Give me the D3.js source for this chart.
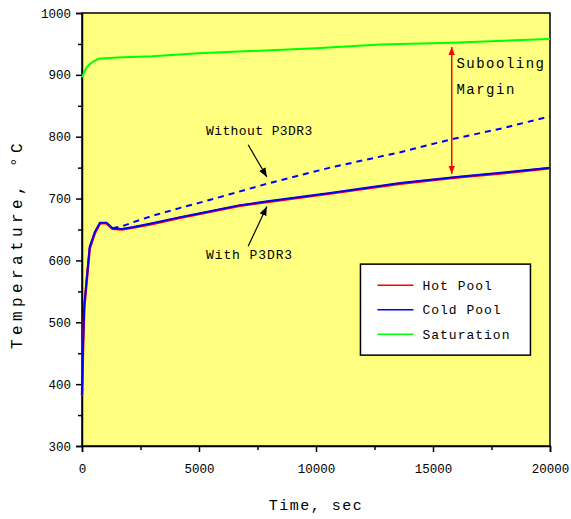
<!DOCTYPE html>
<html>
<head>
<meta charset="utf-8">
<script src="https://cdn.jsdelivr.net/npm/d3@7"></script>
<style>
  body { margin: 0; background: #fff; }
  svg text { font-family: "Liberation Mono", "DejaVu Sans Mono", monospace; fill: #000; }
</style>
</head>
<body>
<div id="chartDiv"></div>
<script>
// Pool temperatures (with PSDRS), cold pool / hot pool nearly identical
var poolTime = [0, 50, 100, 200, 330, 550, 770, 1050, 1300, 1700, 2200, 3000, 4200, 5000, 6700, 8000, 10600, 13600, 16000, 18000, 20000];
var coldPool = [383, 470, 528, 569, 622, 646, 661, 661, 652, 651, 654, 660, 670, 676, 689, 696, 709, 725, 735, 742, 750];
var hotPool  = [381, 468, 525, 566, 619, 644, 660, 660, 651, 650, 653, 659, 669, 675, 688, 695, 708, 724, 734, 741, 749];

// Cold pool without PSDRS (dashed)
var noPsdrsTime = [1300, 1700, 2200, 3000, 4200, 5000, 6700, 8000, 10600, 13600, 15700, 18000, 20000];
var noPsdrsTemp = [652, 655, 662, 672, 685, 693, 711, 725, 750, 775, 795, 814, 833];

// Saturation temperature
var satTime = [0, 100, 200, 350, 500, 700, 1500, 3000, 5000, 10000, 12750, 15800, 20000];
var satTemp = [896, 905, 912, 918, 922, 926, 928, 930, 935, 943, 949, 952, 958];

var yTicks = [300, 400, 500, 600, 700, 800, 900, 1000];
var xTicks = [0, 5000, 10000, 15000, 20000];
var legendNames = ["Hot Pool", "Cold Pool", "Saturation"];
var legendColors = ["#ff0000", "#0000ff", "#00ff00"];

// Chart dimensions
var svgWidth = 571;
var svgHeight = 519;
var margin = { top: 13, right: 21, bottom: 73, left: 82 };
var plotW = svgWidth - margin.left - margin.right;
var plotH = svgHeight - margin.top - margin.bottom;

var svg = d3.select('#chartDiv')
            .append('svg')
            .attr('width', svgWidth)
            .attr('height', svgHeight);

var defs = svg.append('defs');
function addMarker(id, color, size) {
    defs.append('marker')
        .attr('id', id)
        .attr('viewBox', '0 0 10 10')
        .attr('refX', 10)
        .attr('refY', 5)
        .attr('markerWidth', size)
        .attr('markerHeight', size)
        .attr('markerUnits', 'userSpaceOnUse')
        .attr('orient', 'auto-start-reverse')
        .append('path')
        .attr('d', 'M0,1 L10,5 L0,9 Z')
        .attr('fill', color);
}
addMarker('arrowBlack', '#000', 9);
addMarker('arrowRed', '#ff0000', 8);

var g = svg.append('g').attr('transform', 'translate(' + margin.left + ',' + margin.top + ')');

var x = d3.scaleLinear().domain([0, 20000]).range([0, plotW]);
var y = d3.scaleLinear().domain([300, 1000]).range([plotH, 0]);

// Yellow plot background
g.append('rect')
 .attr('width', plotW)
 .attr('height', plotH)
 .attr('fill', '#ffff80');

// Axes with major + minor ticks
var yMinor = d3.range(350, 1000, 100);
var xMinor = d3.range(2500, 20000, 5000);

g.append('g')
 .call(d3.axisLeft(y).tickValues(yMinor).tickSize(4).tickFormat(''))
 .call(function(a) { a.select('.domain').remove(); });
g.append('g')
 .call(d3.axisBottom(x).tickValues(xMinor).tickSize(4).tickFormat(''))
 .attr('transform', 'translate(0,' + plotH + ')')
 .call(function(a) { a.select('.domain').remove(); });

var yAxis = g.append('g')
 .call(d3.axisLeft(y).tickValues(yTicks).tickSize(6).tickPadding(5).tickFormat(d3.format('d')));
yAxis.selectAll('text').style('font-size', '12.5px');

var xAxis = g.append('g')
 .attr('transform', 'translate(0,' + plotH + ')')
 .call(d3.axisBottom(x).tickValues(xTicks).tickSize(6).tickPadding(12).tickFormat(d3.format('d')));
xAxis.selectAll('text').style('font-size', '12.5px');

g.selectAll('.domain').attr('stroke-width', 1.5);
g.selectAll('.tick line').attr('stroke-width', 1.5);

// Frame
g.append('rect')
 .attr('width', plotW)
 .attr('height', plotH)
 .attr('fill', 'none')
 .attr('stroke', '#000')
 .attr('stroke-width', 1.5);

// Lines
var line = d3.line()
             .x(function(d) { return x(d[0]); })
             .y(function(d) { return y(d[1]); });

function pairs(t, v) { return t.map(function(d, i) { return [d, v[i]]; }); }

g.append('path')
 .attr('d', line(pairs(satTime, satTemp)))
 .attr('fill', 'none')
 .attr('stroke', '#00ff00')
 .attr('stroke-width', 2);

g.append('path')
 .attr('d', line(pairs(noPsdrsTime, noPsdrsTemp)))
 .attr('fill', 'none')
 .attr('stroke', '#0000ff')
 .attr('stroke-width', 2)
 .attr('stroke-dasharray', '6,5');

g.append('path')
 .attr('d', line(pairs(poolTime, hotPool)))
 .attr('fill', 'none')
 .attr('stroke', '#ff0000')
 .attr('stroke-width', 2.5);

g.append('path')
 .attr('d', line(pairs(poolTime, coldPool)))
 .attr('fill', 'none')
 .attr('stroke', '#0000ff')
 .attr('stroke-width', 2);

// Subcooling margin arrow
g.append('line')
 .attr('x1', x(15800)).attr('x2', x(15800))
 .attr('y1', y(945)).attr('y2', y(740))
 .attr('stroke', '#ff0000')
 .attr('stroke-width', 1.5)
 .attr('marker-start', 'url(#arrowRed)')
 .attr('marker-end', 'url(#arrowRed)');

g.append('text')
 .attr('x', x(16000)).attr('y', y(911))
 .style('font-size', '14px').style('letter-spacing', '1.5px')
 .text('Subooling');
g.append('text')
 .attr('x', x(16000)).attr('y', y(869))
 .style('font-size', '14px').style('letter-spacing', '1.5px')
 .text('Margin');

// Annotations
g.append('text')
 .attr('x', x(5300)).attr('y', y(803))
 .style('font-size', '13px').style('letter-spacing', '0.4px')
 .text('Without P3DR3');
g.append('line')
 .attr('x1', x(7100)).attr('y1', y(787))
 .attr('x2', x(7900)).attr('y2', y(735))
 .attr('stroke', '#000').attr('stroke-width', 1.2)
 .attr('marker-end', 'url(#arrowBlack)');

g.append('text')
 .attr('x', x(5300)).attr('y', y(602))
 .style('font-size', '13px').style('letter-spacing', '0.9px')
 .text('With P3DR3');
g.append('line')
 .attr('x1', x(7100)).attr('y1', y(623))
 .attr('x2', x(7900)).attr('y2', y(687))
 .attr('stroke', '#000').attr('stroke-width', 1.2)
 .attr('marker-end', 'url(#arrowBlack)');

// Legend
var legend = g.append('g').attr('transform', 'translate(' + x(11900) + ',' + y(594) + ')');
legend.append('rect')
      .attr('width', 170)
      .attr('height', 91)
      .attr('fill', '#fff')
      .attr('stroke', '#000')
      .attr('stroke-width', 1.5);
legendNames.forEach(function(name, i) {
    var ly = 21 + i * 24.5;
    legend.append('line')
          .attr('x1', 17).attr('x2', 53)
          .attr('y1', ly).attr('y2', ly)
          .attr('stroke', legendColors[i])
          .attr('stroke-width', 1.5);
    legend.append('text')
          .attr('x', 62).attr('y', ly + 4.5)
          .style('font-size', '13px').style('letter-spacing', '1px')
          .text(name);
});

// Axis titles
svg.append('text')
   .attr('x', margin.left + plotW / 2)
   .attr('y', 510)
   .attr('text-anchor', 'middle')
   .style('font-size', '15px').style('letter-spacing', '1.5px')
   .text('Time, sec');

svg.append('text')
   .attr('transform', 'translate(22,244) rotate(-90)')
   .attr('text-anchor', 'middle')
   .style('font-size', '16px').style('letter-spacing', '4.4px')
   .text('Temperature, °C');
</script>
</body>
</html>
